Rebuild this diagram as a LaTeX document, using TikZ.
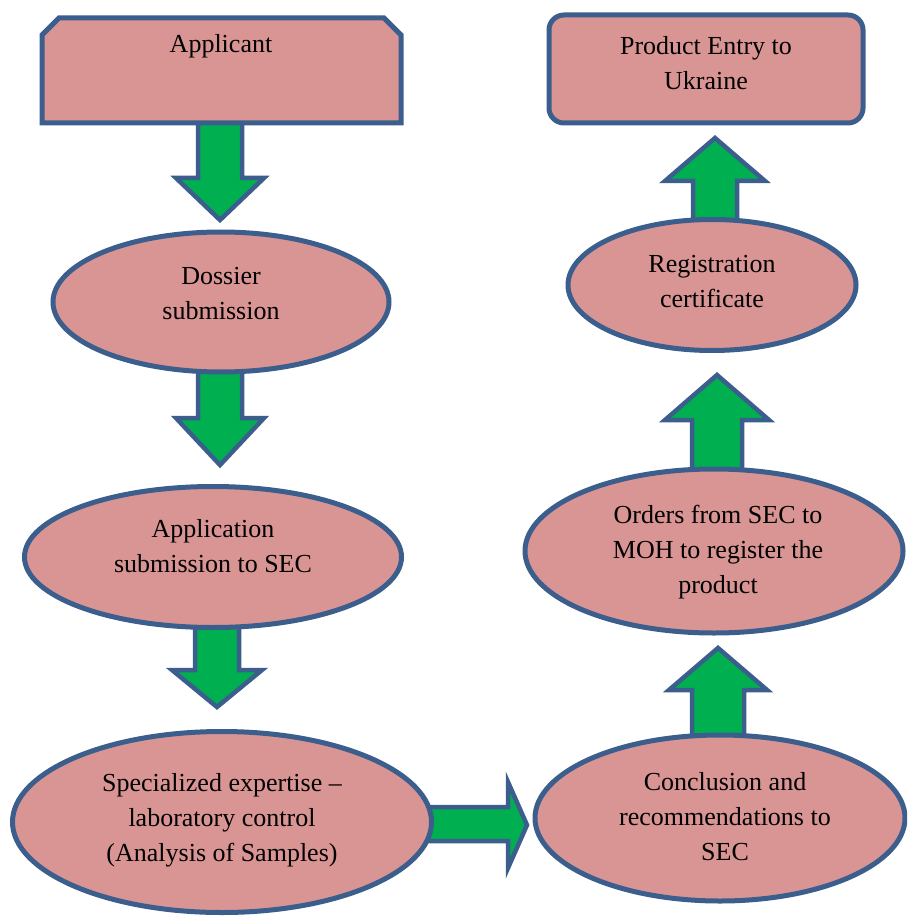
\documentclass[tikz,border=0pt]{standalone}
\usepackage{fontspec}
\setmainfont{Liberation Serif}
\usetikzlibrary{shapes.geometric}
\definecolor{pinkfill}{HTML}{D99594}
\definecolor{blueline}{HTML}{3B5E8C}
\definecolor{arrowgreen}{HTML}{00B050}
\tikzset{
  shapeline/.style={draw=blueline, line width=5pt, fill=pinkfill, line join=miter},
  oval/.style={shapeline, ellipse, inner sep=0pt, outer sep=0pt},
  label text/.style={align=center, inner sep=0pt, font=\fontsize{26}{35}\selectfont},
  blockarrow/.style={draw=blueline, line width=4.5pt, fill=arrowgreen, line join=miter},
}
% vertical block arrow: cx, start y, head base y, tip y, shaft half, head half
\newcommand\vblockarrow[6]{%
  \draw[blockarrow] (#1-#5,#2) -- (#1-#5,#3) -- (#1-#6,#3) -- (#1,#4)
    -- (#1+#6,#3) -- (#1+#5,#3) -- (#1+#5,#2) -- cycle;}
\begin{document}
\begin{tikzpicture}[x=1pt,y=-1pt]
\useasboundingbox (0,0) rectangle (907,917);
\clip (0,0) rectangle (907,917);

% block arrows (drawn first, shapes cover their ends)
\vblockarrow{220}{122}{178}{220}{22}{44}
\vblockarrow{220}{370}{418}{465}{22}{44}
\vblockarrow{217}{626}{670}{707}{22}{45}
\vblockarrow{718}{740}{690}{648}{26}{49}
\vblockarrow{717}{472}{420}{375}{25}{52}
\vblockarrow{715}{224}{181}{138}{22}{50}
\draw[blockarrow] (425,807) -- (508,807) -- (508,782) -- (527,825)
  -- (508,868) -- (508,841) -- (425,841) -- cycle;

% Applicant box with chamfered top corners
\draw[shapeline] (42,123) -- (42,35) -- (59,18) -- (384,18) -- (401,35)
  -- (401,123) -- cycle;
\node[label text] (applicant) at (221,46) {Applicant};

% Product entry box
\draw[shapeline, rounded corners=15pt] (549,15) rectangle (863,123);
\node[label text] (product) at (706,63) {Product Entry to\\Ukraine};

% ellipses
\node[oval, minimum width=336pt, minimum height=140pt] (dossier) at (221,302) {};
\node[label text] (dossiert) at (221,294) {Dossier\\submission};

\node[oval, minimum width=377pt, minimum height=141pt] (application) at (213,557) {};
\node[label text] (applicationt) at (213,546) {Application\\submission to SEC};

\node[oval, minimum width=419pt, minimum height=181pt] (special) at (222,822) {};
\node[label text] (specialt) at (222,820) {Specialized expertise –\\laboratory control\\(Analysis of Samples)};

\node[oval, minimum width=370pt, minimum height=166pt] (conclusion) at (720,818) {};
\node[label text] (conclusiont) at (725,817) {Conclusion and\\recommendations to\\SEC};

\node[oval, minimum width=378pt, minimum height=164pt] (orders) at (714,551) {};
\node[label text] (orderst) at (718,552) {Orders from SEC to\\MOH to register the\\product};

\node[oval, minimum width=288pt, minimum height=131pt] (registration) at (712,285) {};
\node[label text] (registrationt) at (712,282) {Registration\\certificate};
\end{tikzpicture}
\end{document}
